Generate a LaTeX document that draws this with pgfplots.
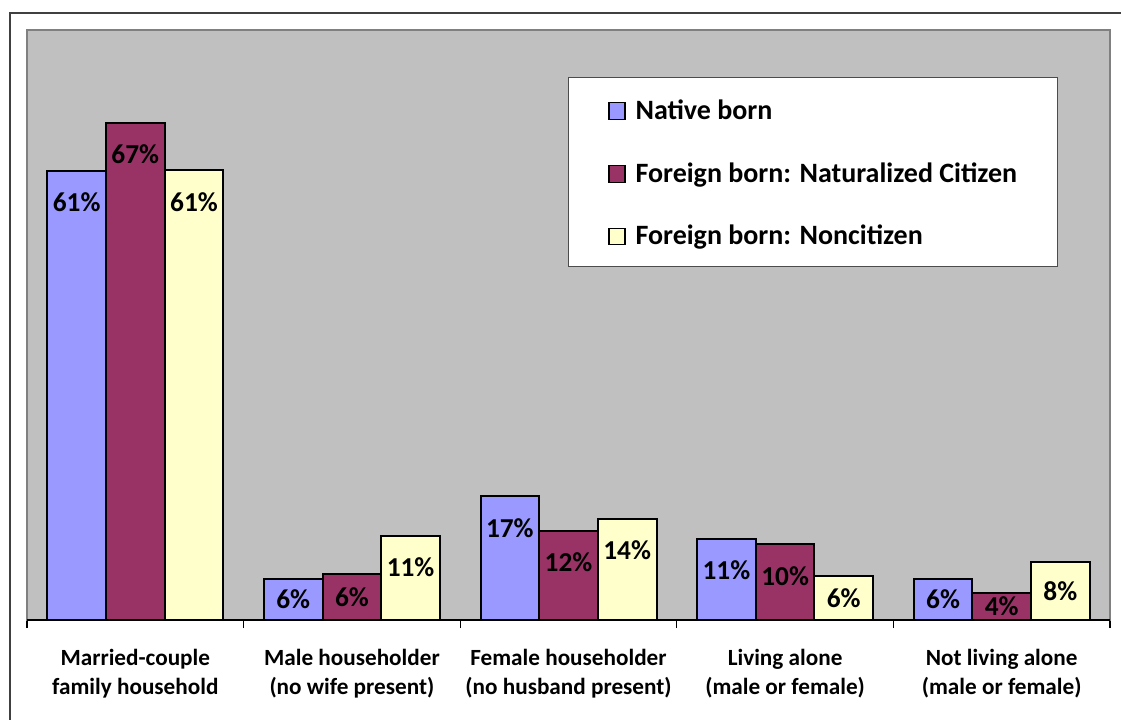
\documentclass[border=0pt]{standalone}
\usepackage{fontspec}
\setmainfont{Carlito}
\usepackage{pgfplots}
\usepackage{pgfplotstable}
\pgfplotsset{compat=1.18}
\definecolor{cNative}{HTML}{9999FF}
\definecolor{cNat}{HTML}{993366}
\definecolor{cNon}{HTML}{FFFFCC}
\definecolor{plotbg}{HTML}{C0C0C0}
\definecolor{plotedge}{HTML}{808080}
\pgfplotstableread{
x n f c
0 60.9 67.4 61.0
1 5.6 6.3 11.4
2 16.8 12.1 13.7
3 11.0 10.3 5.9
4 5.6 3.7 7.8
}\data
\begin{document}
\begin{tikzpicture}
\useasboundingbox (-20.25pt,-74.25pt) rectangle (820.5pt,465pt);
\draw[line width=1.2pt, black!75] (-12.75pt,-80pt) -- (-12.75pt,455.25pt) -- (830pt,455.25pt);
\begin{axis}[
  at={(0pt,0pt)}, anchor=south west,
  scale only axis, width=812.25pt, height=442.5pt,
  xmin=-0.5, xmax=4.5, ymin=0, ymax=80,
  ybar=0pt, bar width=44pt,
  axis background/.style={fill=plotbg},
  axis line style={draw=plotedge, line width=1.1pt},
  ytick=\empty,
  xtick={0,1,2,3,4},
  xticklabels={Married-couple\\family household,Male householder\\(no wife present),Female householder\\(no husband present),Living alone\\(male or female),Not living alone\\(male or female)},
  major tick length=0pt,
  minor xtick={-0.5,0.5,1.5,2.5,3.5,4.5},
  minor tick length=6pt,
  tick align=outside,
  xtick pos=bottom,
  minor tick style={black, line width=0.8pt},
  xticklabel style={align=center, font=\bfseries\fontsize{17.4}{21.75}\selectfont, yshift=-18.5pt},
  /pgf/number format/assume math mode=true,
  every axis plot/.append style={draw=black, line width=1.5pt},
  visualization depends on={y \as \rawy},
  nodes near coords={\pgfmathprintnumber[fixed,precision=0]{\pgfplotspointmeta}\%},
  every node near coord/.append style={font=\bfseries\fontsize{20.5}{24}\selectfont, text=black, anchor=center, yshift={-min(4.3,\rawy/2)*5.531pt}},
  legend style={at={(0.4995,0.92)}, anchor=north west, draw=black!70, line width=0.8pt, fill=white,
    font=\bfseries\fontsize{21}{24}\selectfont, inner xsep=30pt, inner ysep=11.9pt, row sep=23.5pt, column sep=7.5pt,
    nodes={inner sep=0pt, text height=19.5pt, text depth=4pt}},
  legend cell align=left,
  legend image code/.code={\draw[#1, line width=0.8pt, draw=black] (0pt,-7.75pt) rectangle (12pt,4.75pt);},
  extra description/.code={\draw[black, line width=1.1pt] (rel axis cs:0,0) -- (rel axis cs:1,0);},
]
\addplot[fill=cNative] table[x=x,y=n]{\data};
\addplot[fill=cNat] table[x=x,y=f]{\data};
\addplot[fill=cNon] table[x=x,y=c]{\data};
\legend{Native born,Foreign born: Naturalized Citizen,Foreign born: Noncitizen}
\end{axis}
\end{tikzpicture}
\end{document}
